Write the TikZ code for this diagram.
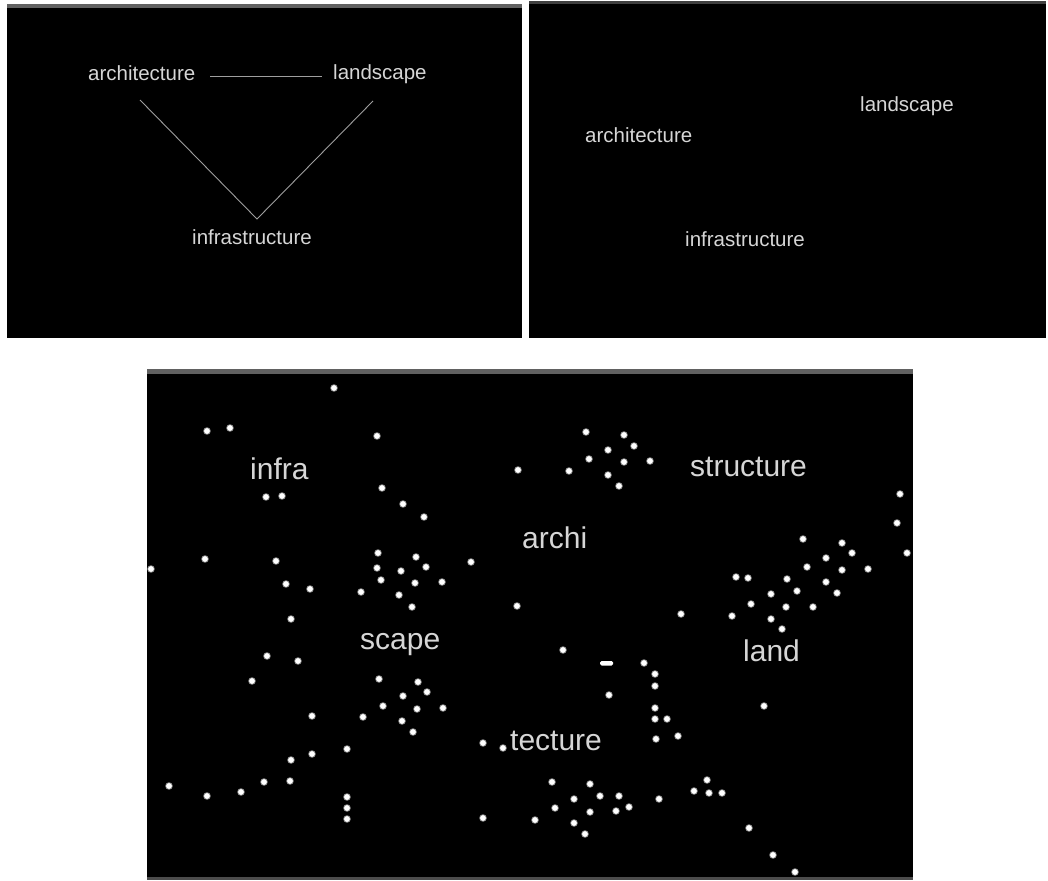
\documentclass[tikz,border=0pt]{standalone}
\usepackage{fontspec}
\setmainfont{Liberation Sans}
\usetikzlibrary{patterns}
\begin{document}
\begin{tikzpicture}[x=1pt,y=-1pt,
  panel/.style={fill=black},
  band/.style={fill=black!62},
  small/.style={inner sep=0pt,anchor=base west,text=white!84!black,font=\fontsize{20.5}{24}\selectfont},
  big/.style={inner sep=0pt,anchor=base west,text=white!84!black,font=\fontsize{30}{34}\selectfont},
  link/.style={draw=white!62!black,line width=0.9pt}]
\useasboundingbox (0,0) rectangle (1048,880);
\fill[white] (0,0) rectangle (1048,880);
% panels
\fill[panel] (7,4) rectangle (522,338);
\fill[panel] (529,1) rectangle (1046,338);
\fill[panel] (147,369) rectangle (913,880);
\fill[band] (7,4) rectangle (522,8);
\fill[black!75] (529,1) rectangle (1046,4);
\fill[band] (147,369) rectangle (913,374);
\fill[black!70] (147,877) rectangle (913,880);

% top-left: linked words
\node[small] (a1) at (88,81) {architecture};
\node[small] (l1) at (333,80) {landscape};
\node[small] (i1) at (192,244) {infrastructure};
\coordinate (h1) at (210,76);
\coordinate (h2) at (322,76);
\coordinate (d1) at (140,100);
\coordinate (d2) at (373,101);
\coordinate (apex) at (257,219);
\draw[link] (h1) -- (h2);
\draw[link] (d1) -- (apex) -- (d2);

% top-right: free words
\node[small] (l2) at (860,112) {landscape};
\node[small] (a2) at (585,142) {architecture};
\node[small] (i2) at (685,246) {infrastructure};

% bottom: fragments
\node[big] (b1) at (250,479) {infra};
\node[big] (b2) at (690,476) {structure};
\node[big] (b3) at (522,548) {archi};
\node[big] (b4) at (360,649) {scape};
\node[big] (b5) at (743,661) {land};
\node[big] (b6) at (510,750) {tecture};

\foreach \p in {(334,388),(207,431),(230,428),(377,436),(518,470),(266,497),(282,496),(382,488),(403,504),(424,517),(205,559),(151,569),(276,561),(378,553),(416,557),(377,568),(401,571),(426,567),(471,562),(286,584),(310,589),(381,580),(415,583),(442,582),(361,592),(399,595),(412,607),(517,606),(291,619),
(586,432),(624,435),(634,446),(608,450),(589,459),(624,462),(650,461),(569,471),(608,475),(619,486),
(900,494),(897,523),(907,553),(803,539),(842,543),(852,553),(826,558),(807,567),(842,570),(868,569),(736,577),(748,578),(787,579),(826,582),(797,591),(837,593),(771,594),(751,604),(786,607),(813,607),(681,614),(732,616),(771,619),(782,629),
(267,656),(298,661),(252,681),(379,679),(418,682),(403,696),(427,692),(383,706),(417,709),(443,708),(363,717),(402,721),(413,732),(312,716),(347,749),(312,754),(291,760),(483,743),(503,748),(169,786),(207,796),(241,792),(264,782),(290,781),(347,797),(347,808),(347,819),(483,818),
(563,650),(644,663),(655,674),(655,686),(609,695),(655,708),(655,719),(667,719),(678,736),(656,739),(764,706),(552,782),(590,784),(707,780),(600,796),(619,796),(574,799),(694,791),(709,793),(722,793),(659,799),(629,807),(555,808),(590,812),(616,811),(535,820),(574,823),(585,834),(749,828),(773,855),(795,872)}
{
  \fill[white!50!black] \p circle (3.8);
  \fill[white] \p circle (2.9);
}
\fill[white,rounded corners=1.5] (600,661) rectangle (613,665.5);
\end{tikzpicture}
\end{document}
